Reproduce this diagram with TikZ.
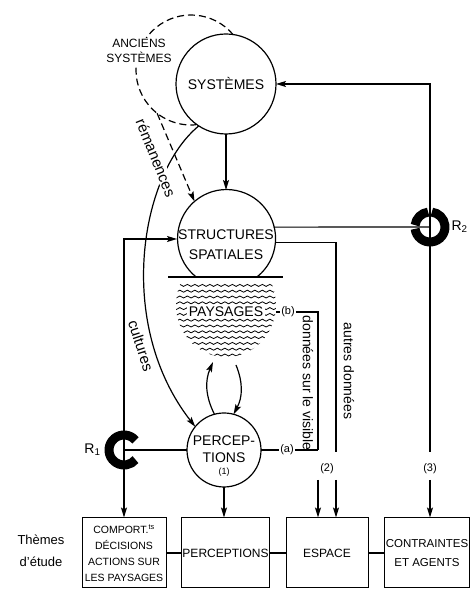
\documentclass[tikz,border=0pt]{standalone}
\usepackage{fontspec}
\setmainfont{Liberation Sans}
\usetikzlibrary{arrows.meta,decorations.pathmorphing}
\begin{document}
\begin{tikzpicture}[x=1pt, y=1pt,
        trait/.style={line width=1.2pt},
        fleche/.style={trait, -{Stealth[length=10pt, width=6pt, inset=2pt]}},
        tirets/.style={trait, dash pattern=on 7pt off 4pt},
        ronde/.style={circle, draw, line width=1.2pt, inner sep=0pt, outer sep=0pt},
        vide/.style={circle, inner sep=0pt, outer sep=0pt},
        anneau/.style={line width=9pt},
        vague/.style={line width=0.8pt, decorate, decoration={snake, segment length=7.5pt, amplitude=1pt}},
        theme/.style={rectangle, draw, line width=1pt, minimum height=70pt, inner sep=1pt, align=center, font=\fontsize{12}{16}\selectfont},
        grand/.style={font=\fontsize{14}{19}\selectfont},
        courbe/.style={font=\fontsize{15}{15}\selectfont, inner sep=1pt},
        petit/.style={font=\fontsize{11}{11}\selectfont, inner sep=1pt}]
    \useasboundingbox (0, 0) rectangle (470, 589);

    \node (sys) at (226, 505) [ronde, grand, minimum size=100pt] {SYSTÈMES};
    \node (anc) at (191, 519) [vide, minimum size=110pt] {};
    \node (struct) at (226, 350) [vide, minimum size=98pt] {};
    \node (perc) at (224, 139) [ronde, minimum size=74pt] {};
    \node (perctxt) at (224, 133) [align=center, font=\fontsize{14}{17}\selectfont] {PERCEP-\\TIONS\\[-5pt]{\fontsize{9}{9}\selectfont(1)}};
    \node (r1) at (124, 139) [vide, minimum size=40pt, label={[grand]left:R\textsubscript{1}}] {};
    \node (r2) at (430, 362) [vide, minimum size=40pt, label={[grand, xshift=-2pt]right:R\textsubscript{2}}] {};

    \node (comport) at (124, 36) [theme, minimum width=84pt, font=\fontsize{10.5}{16}\selectfont] {COMPORT.\textsuperscript{ts}\\DÉCISIONS\\ACTIONS SUR\\LES PAYSAGES};
    \node (percept) at (225.5, 36) [theme, minimum width=87pt] {PERCEPTIONS};
    \node (espace) at (327, 36) [theme, minimum width=82pt] {ESPACE};
    \node (contr) at (427, 36) [theme, minimum width=84pt, font=\fontsize{11.5}{16}\selectfont] {CONTRAINTES\\[3pt]ET AGENTS};
    \node (themes) at (41, 38) [align=center, font=\fontsize{13}{22}\selectfont] {Thèmes\\d'étude};

    \coordinate (vis) at (318, 139);
    \coordinate (vis2) at (318, 109);
    \coordinate (aut) at (336, 137);
    \coordinate (aut2) at (336, 109);
    \coordinate (r2b) at (430, 137);
    \coordinate (r2c) at (430, 109);
    \coordinate (pin) at (213, 227);
    \coordinate (pout) at (236, 224);
    \coordinate (wavr) at (276, 277);

    % structures spatiales et paysages
    \draw[trait] (struct.-50.86) arc[start angle=-50.86, end angle=230.86, radius=49];
    \draw[trait] (168, 312) -- (283, 312);
    \node (structtxt) at (226, 344) [grand, align=center] {STRUCTURES\\[1pt]SPATIALES};
    \begin{scope}
        \clip (226, 284) ellipse [x radius=50, y radius=52];
        \foreach \h in {234, 239.8, ..., 304}
            \draw[vague] (170, \h) -- (282, \h);
    \end{scope}
    \node (pays) at (226, 277) [grand, fill=white, inner sep=1.5pt] {PAYSAGES};
    \node (nb) at (288, 277) [petit] {(b)};
    \node (na) at (287, 139) [petit] {(a)};
    \node (deux) at (327, 120) [petit] {(2)};
    \node (trois) at (430, 120) [petit] {(3)};

    \draw[fleche] (sys) -- (struct);
    \draw[fleche] (r2.center) |- (sys);
    \draw[trait] (struct.14) -- (r2.center);
    \draw[trait] (r2.center) -- (r2b);
    \draw[fleche] (r2c) -- (r2c |- contr.north);
    \draw[trait] (struct.-4) -| (aut);
    \draw[fleche] (aut2) -- (aut2 |- espace.north);
    \draw[trait] (wavr) -- (nb);
    \draw[trait] (nb.east) -| (vis);
    \draw[trait] (perc) -- (na);
    \draw[trait] (na) -- (vis);
    \draw[fleche] (vis2) -- (vis2 |- espace.north);
    \draw[fleche] (r1.center) |- (struct);
    \draw[trait] (r1.center) -- (perc);
    \draw[fleche] (r1.center) -- (r1.center |- comport.north);
    \draw[fleche] (perc) -- (perc |- percept.north);
    \draw[fleche] (perc.105) to[bend left=25] (pin);
    \draw[fleche] (pout) to[bend left=25] (perc.75);
    \draw[trait] (comport) -- (percept);
    \draw[trait] (percept) -- (espace);
    \draw[trait] (espace) -- (contr);

    \draw[anneau] (r1.center) ++(40:15) arc[start angle=40, end angle=320, radius=15];
    \draw[anneau] (r2.center) ++(97:15) arc[start angle=97, end angle=173, radius=15];
    \draw[anneau] (r2.center) ++(187:15) arc[start angle=187, end angle=443, radius=15];

    % anciens systemes, remanences, cultures
    \draw[tirets] (anc.40) arc[start angle=40, end angle=275, radius=55];
    \node (anctxt) at (139, 538) [fill=white, inner sep=1pt, align=center, font=\fontsize{12}{15}\selectfont] {ANCIENS\\SYSTÈMES};
    \draw[fleche] (sys.237) .. controls (140, 415) and (115, 265) .. (perc.141);
    \draw[tirets, -{Stealth[length=10pt, width=6pt, inset=2pt]}] (anc.232) -- (struct.130);
    \node (rem) at (156, 431) [courbe, fill=white, rotate=-68] {rémanences};
    \node (cult) at (141, 243) [courbe, rotate=-72] {cultures};
    \node (donvis) at (308, 206) [grand, rotate=-90] {données sur le visible};
    \node (autdon) at (349, 218) [grand, rotate=-90] {autres données};
\end{tikzpicture}
\end{document}
